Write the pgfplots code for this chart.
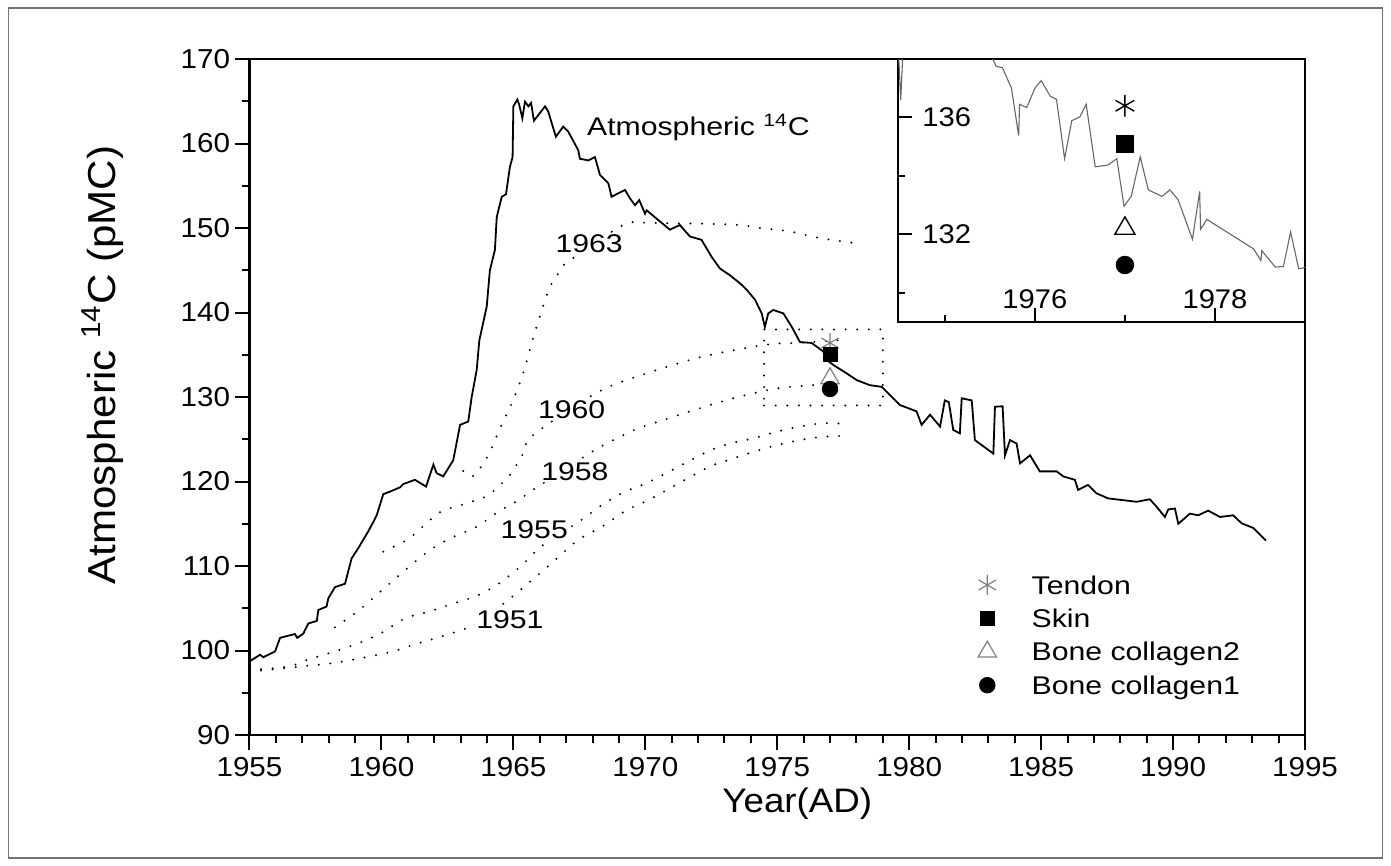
\documentclass[border=0pt]{standalone}
\usepackage{fontspec}
\setmainfont{Liberation Sans}
\newfontfamily\annfont[FakeStretch=1.18]{Liberation Sans}
\newfontfamily\tickfont[FakeStretch=1.08]{Liberation Sans}
\newfontfamily\labfont[FakeStretch=1.08]{Liberation Sans}
\usepackage{pgfplots}
\pgfplotsset{compat=1.18}
\pgfplotstableread{
x y
1955.00 98.7
1955.40 99.5
1955.52 99.2
1955.97 99.9
1956.16 101.5
1956.72 101.95
1956.81 101.5
1957.04 102.0
1957.23 103.2
1957.55 103.5
1957.61 104.8
1957.92 105.2
1957.99 106.2
1958.24 107.5
1958.62 107.9
1958.87 110.9
1959.12 112.1
1959.50 114.1
1959.69 115.2
1959.82 116.0
1960.07 118.5
1960.32 118.8
1960.70 119.3
1960.83 119.7
1961.27 120.2
1961.69 119.4
1961.97 122.0
1962.09 121.0
1962.34 120.6
1962.72 122.5
1962.98 126.7
1963.29 127.1
1963.42 130.0
1963.61 133.2
1963.71 136.7
1963.99 140.7
1964.11 145.0
1964.30 147.4
1964.37 151.3
1964.56 153.7
1964.72 154.0
1964.87 157.25
1964.97 158.4
1965.00 164.4
1965.15 165.2
1965.22 164.6
1965.34 163.0
1965.44 164.95
1965.57 164.4
1965.67 164.8
1965.78 162.7
1966.20 164.4
1966.32 163.8
1966.61 160.8
1966.89 162.0
1967.08 161.4
1967.46 159.2
1967.52 158.2
1967.84 158.0
1968.09 158.4
1968.28 156.3
1968.60 155.3
1968.72 153.7
1968.91 154.0
1969.23 154.5
1969.42 153.5
1969.61 152.7
1969.77 153.3
1969.99 151.7
1970.05 152.1
1970.43 151.1
1970.93 149.8
1971.31 150.35
1971.69 149.0
1972.13 148.6
1972.51 146.6
1972.83 145.2
1973.21 144.4
1973.59 143.45
1973.84 142.7
1974.16 141.5
1974.41 139.9
1974.53 138.3
1974.66 139.9
1974.85 140.3
1975.23 139.9
1975.55 138.3
1975.86 136.5
1976.30 136.4
1976.74 135.4
1976.87 134.4
1977.12 133.8
1977.63 132.8
1978.01 132.0
1978.51 131.4
1978.96 131.2
1979.65 129.05
1980.28 128.3
1980.47 126.7
1980.79 127.9
1981.17 126.5
1981.35 129.6
1981.50 129.4
1981.67 126.1
1981.92 125.7
1981.99 129.85
1982.37 129.6
1982.49 124.9
1983.19 123.3
1983.25 128.85
1983.54 128.9
1983.63 123.1
1983.82 124.9
1984.07 124.5
1984.20 122.15
1984.58 123.1
1984.95 121.2
1985.59 121.2
1985.84 120.6
1986.28 120.2
1986.40 119.0
1986.78 119.6
1987.10 118.6
1987.54 118.0
1988.62 117.6
1989.12 117.9
1989.38 117.0
1989.69 115.8
1989.82 116.7
1990.07 116.8
1990.20 115.0
1990.64 116.2
1990.95 116.0
1991.33 116.55
1991.78 115.8
1992.28 116.0
1992.60 115.05
1993.04 114.5
1993.52 113.0
}\atmos
\pgfplotstableread{
x y
1974.48 138.6
1974.51 136.6
1974.54 138.6
1974.85 140.3
1975.23 139.9
1975.54 137.95
1975.57 137.75
1975.64 137.7
1975.74 137.0
1975.82 135.38
1975.83 136.45
1975.91 136.34
1976.00 137.0
1976.07 137.26
1976.17 136.73
1976.24 136.62
1976.33 134.59
1976.41 135.89
1976.50 136.02
1976.57 136.45
1976.67 134.31
1976.81 134.37
1976.91 134.59
1976.99 132.96
1977.07 133.3
1977.17 134.65
1977.26 133.52
1977.41 133.3
1977.50 133.52
1977.59 133.19
1977.75 131.83
1977.83 133.47
1977.84 132.17
1977.91 132.51
1978.43 131.5
1978.51 131.1
1978.52 131.44
1978.67 130.88
1978.76 130.9
1978.84 132.08
1978.93 130.82
1979.02 130.88
}\inset
\pgfplotstableread{
x y
1955.00 97.5
1956.91 98.1
1958.24 98.55
1959.57 99.3
1960.45 99.9
1961.34 100.8
1962.22 101.6
1963.10 102.5
1963.55 103.0
1964.81 106.0
1965.69 108.3
1966.58 110.7
1967.46 113.1
1968.35 114.65
1969.29 116.6
1970.18 117.9
1972.33 121.6
1973.21 122.6
1974.09 123.5
1974.98 124.3
1975.86 124.9
1976.74 125.3
1977.63 125.4
}\cA
\pgfplotstableread{
x y
1955.00 97.7
1956.47 98.1
1957.29 99.0
1958.24 99.9
1959.12 100.85
1960.01 102.1
1960.89 103.8
1961.80 104.6
1962.66 105.5
1963.55 106.4
1964.37 107.75
1965.25 109.9
1966.13 112.5
1967.46 115.2
1968.35 117.2
1969.23 118.8
1970.18 120.0
1972.33 123.5
1973.21 124.5
1974.09 125.1
1974.98 125.9
1975.86 126.5
1976.74 126.9
1977.63 126.8
}\cB
\pgfplotstableread{
x y
1958.24 102.74
1959.12 104.7
1960.01 107.1
1960.89 109.5
1961.80 111.8
1962.66 113.35
1963.61 114.65
1964.37 116.3
1965.25 117.9
1965.69 118.9
1967.97 123.5
1968.79 124.9
1969.73 126.3
1970.11 126.7
1972.30 128.9
1973.33 129.85
1974.60 130.8
1975.48 131.2
1976.36 131.4
1977.50 131.5
}\cC
\pgfplotstableread{
x y
1960.07 111.7
1961.02 113.2
1961.90 115.6
1962.34 116.55
1963.23 117.4
1963.67 117.9
1964.11 118.5
1964.87 120.8
1965.37 123.3
1965.75 125.5
1968.22 130.6
1970.05 132.8
1972.20 134.8
1974.60 136.2
1975.74 136.4
1977.50 136.75
}\cD
\pgfplotstableread{
x y
1963.10 121.25
1963.48 120.65
1964.05 123.1
1964.49 126.3
1964.94 129.25
1965.37 132.8
1965.69 136.35
1966.00 139.5
1966.39 143.05
1966.70 144.6
1967.02 145.9
1969.16 150.35
1970.05 150.6
1971.06 150.55
1972.32 150.5
1973.59 150.35
1974.47 149.96
1975.48 149.6
1976.62 148.8
1978.00 148.2
}\cE
\begin{document}
\begin{tikzpicture}
\path[use as bounding box] (-124.75pt,-65.5pt) rectangle (570.75pt,367.5pt);
\draw[black!55, line width=0.8pt] (-120.5pt,-61.5pt) rectangle (566.5pt,363.5pt);
\begin{axis}[
  at={(0pt,0pt)}, anchor=south west,
  scale only axis, width=527.75pt, height=338pt,
  xmin=1955, xmax=1995, ymin=90, ymax=170,
  xtick={1955,1960,...,1995}, minor x tick num=4,
  ytick={90,100,...,170}, minor y tick num=1,
  tick align=outside, tick pos=left,
  major tick length=7.5pt, minor tick length=4pt,
  every tick/.style={black, line width=1pt},
  axis line style={line width=1.1pt},
  /pgf/number format/assume math mode=true,
  /pgf/number format/1000 sep={},
  xticklabel style={font=\tickfont\fontsize{13.7}{15}\selectfont, inner sep=0pt, yshift=-3.3pt},
  yticklabel style={font=\tickfont\fontsize{13.7}{15}\selectfont, inner sep=2pt},
  xlabel={Year(AD)},
  ylabel={Atmospheric \textsuperscript{14}C (pMC)},
  xlabel style={font=\labfont\fontsize{17}{19}\selectfont, at={(axis description cs:0.519,-0.101)}, anchor=center},
  ylabel style={font=\labfont\fontsize{19.5}{21}\selectfont, at={(axis description cs:-0.1388,0.547)}, anchor=center},
  legend style={at={(axis description cs:0.6903,0.2438)}, anchor=north west,
    draw=none, fill=none, inner sep=0pt, outer sep=0pt,
    row sep=0pt, column sep=17.6pt,
    font=\annfont\fontsize{12.8}{14}\selectfont,
    nodes={inner sep=0pt, text height=12pt, text depth=4.7pt, anchor=base west}},
  legend cell align=left,
  legend image code/.code={\draw[#1] plot coordinates {(0pt,4.6pt)};},
  clip=true,
]
\addplot[black, line width=0.9pt, forget plot] table[x=x,y=y] {\atmos};
\pgfplotsset{dotstyle/.style={black, line width=1.1pt, line cap=round, dash pattern=on 0pt off 5.8pt, smooth, tension=0.5, forget plot}}
\addplot[dotstyle] table[x=x,y=y] {\cA};
\addplot[dotstyle] table[x=x,y=y] {\cB};
\addplot[dotstyle] table[x=x,y=y] {\cC};
\addplot[dotstyle] table[x=x,y=y] {\cD};
\addplot[dotstyle] table[x=x,y=y] {\cE};
\addplot[black, line width=1.1pt, line cap=round, dash pattern=on 0pt off 5.8pt, forget plot] coordinates {(1974.5,129) (1979,129) (1979,138) (1974.5,138) (1974.5,129)};
\addplot[only marks, mark=asterisk, mark size=5pt, black!50, mark options={line width=0.6pt}] coordinates {(1977,136.4)};
\addlegendentry{Tendon}
\addplot[only marks, mark=square*, mark size=3.5pt, black] coordinates {(1977,135.1)};
\addlegendentry{Skin}
\addplot[only marks, mark=triangle, mark size=5.3pt, black!50, mark options={line width=0.6pt}] coordinates {(1977,132.2)};
\addlegendentry{Bone collagen2}
\addplot[only marks, mark=*, mark size=3.9pt, black] coordinates {(1977,130.95)};
\addlegendentry{Bone collagen1}
\begin{scope}[every node/.style={font=\annfont\fontsize{12.8}{14}\selectfont, inner sep=0.5pt, fill=white}]
\node at (axis cs:1967.87,148.1) {1963};
\node at (axis cs:1967.21,128.46) {1960};
\node at (axis cs:1967.33,121.16) {1958};
\node at (axis cs:1965.79,114.26) {1955};
\node at (axis cs:1964.87,103.6) {1951};
\end{scope}
\node[anchor=base west, inner sep=0pt, font=\annfont\fontsize{12.8}{14}\selectfont] at (axis cs:1967.78,161.0) {Atmospheric \textsuperscript{14}C};
\end{axis}
\begin{axis}[
  at={(324.25pt,206.5pt)}, anchor=south west,
  scale only axis, width=203.5pt, height=131.5pt,
  xmin=1974.48, xmax=1979, ymin=129, ymax=138,
  axis background/.style={fill=white},
  tick align=inside, tick pos=left,
  xtick={1976,1978}, ytick={132,136},
  minor xtick={1975,1977}, minor ytick={130,134},
  major tick length=7pt, minor tick length=3.5pt,
  every tick/.style={black, line width=1pt},
  axis line style={line width=1.3pt},
  /pgf/number format/assume math mode=true,
  /pgf/number format/1000 sep={},
  xticklabel style={font=\tickfont\fontsize{13.5}{15}\selectfont, anchor=south, inner sep=0pt, yshift=6.3pt},
  yticklabel style={font=\tickfont\fontsize{13.5}{15}\selectfont, anchor=west, inner sep=0pt, xshift=12pt},
]
\addplot[black!60, line width=0.55pt] table[x=x,y=y] {\inset};
\addplot[only marks, mark=asterisk, mark size=5.4pt, black, mark options={line width=0.7pt}] coordinates {(1977,136.4)};
\addplot[only marks, mark=square*, mark size=4.3pt, black] coordinates {(1977,135.1)};
\addplot[only marks, mark=triangle, mark size=5.8pt, black, mark options={line width=0.7pt}] coordinates {(1977,132.2)};
\addplot[only marks, mark=*, mark size=4.4pt, black] coordinates {(1977,130.95)};
\end{axis}
\end{tikzpicture}
\end{document}
